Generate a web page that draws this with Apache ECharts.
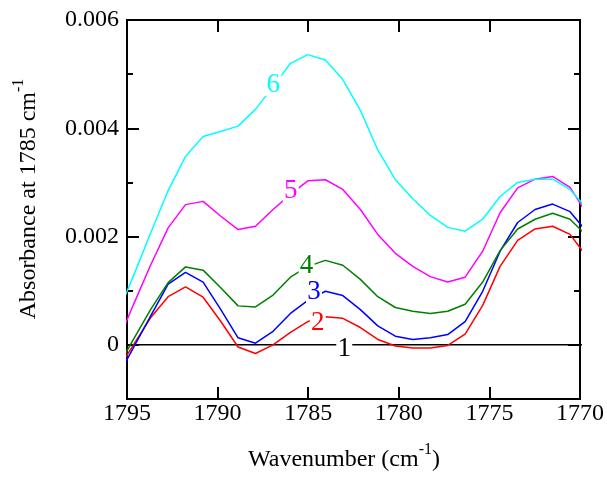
<!DOCTYPE html>
<html>
<head>
<meta charset="utf-8">
<script src="https://cdn.jsdelivr.net/npm/echarts@6/dist/echarts.min.js"></script>
<style>html,body{margin:0;padding:0;background:#fff;}#chart{width:607px;height:477px;}</style>
</head>
<body>
<div id="chart"></div>
<script>
// Wavenumber sampling (cm-1)
const wavenumbers = [1795.63, 1794.66, 1793.70, 1792.73, 1791.77, 1790.80, 1789.84, 1788.87, 1787.91, 1786.94,
  1785.98, 1785.02, 1784.05, 1783.09, 1782.12, 1781.16, 1780.19, 1779.23, 1778.26, 1777.30,
  1776.34, 1775.37, 1774.41, 1773.44, 1772.48, 1771.51, 1770.55, 1769.58];

const curve1 = [0, 0, 0, 0, 0, 0, 0, 0, 0, 0,
  0, 0, 0, 0, 0, 0, 0, 0, 0, 0,
  0, 0, 0, 0, 0, 0, 0, 0];
const curve2 = [-0.00052, -0.00001, 0.00050, 0.00089, 0.00107, 0.00088, 0.00044, -0.00004, -0.00016, 0.00000,
  0.00023, 0.00043, 0.00052, 0.00049, 0.00032, 0.00010, -0.00002, -0.00006, -0.00006, -0.00001,
  0.00020, 0.00073, 0.00145, 0.00193, 0.00214, 0.00219, 0.00204, 0.00161];
const curve3 = [-0.00066, -0.00006, 0.00053, 0.00112, 0.00134, 0.00116, 0.00066, 0.00013, 0.00003, 0.00025,
  0.00058, 0.00082, 0.00099, 0.00091, 0.00065, 0.00035, 0.00016, 0.00010, 0.00013, 0.00019,
  0.00043, 0.00099, 0.00173, 0.00226, 0.00250, 0.00260, 0.00246, 0.00207];
const curve4 = [-0.00048, 0.00009, 0.00065, 0.00115, 0.00144, 0.00138, 0.00106, 0.00072, 0.00070, 0.00092,
  0.00125, 0.00145, 0.00156, 0.00147, 0.00121, 0.00089, 0.00069, 0.00062, 0.00058, 0.00062,
  0.00075, 0.00116, 0.00174, 0.00214, 0.00232, 0.00243, 0.00232, 0.00200];
const curve5 = [-0.00004, 0.00073, 0.00147, 0.00216, 0.00259, 0.00265, 0.00238, 0.00213, 0.00219, 0.00250,
  0.00278, 0.00303, 0.00305, 0.00287, 0.00250, 0.00204, 0.00169, 0.00145, 0.00126, 0.00116,
  0.00125, 0.00173, 0.00244, 0.00290, 0.00306, 0.00311, 0.00291, 0.00240];
const curve6 = [0.00048, 0.00126, 0.00206, 0.00285, 0.00348, 0.00385, 0.00394, 0.00404, 0.00435, 0.00477,
  0.00520, 0.00536, 0.00526, 0.00490, 0.00433, 0.00360, 0.00305, 0.00270, 0.00239, 0.00217,
  0.00210, 0.00232, 0.00274, 0.00300, 0.00306, 0.00306, 0.00287, 0.00250];

const curveNames = ['1', '2', '3', '4', '5', '6'];
const curveColors = ['#000000', '#ff0000', '#0000ff', '#008000', '#ff00ff', '#00ffff'];
const curveValues = [curve1, curve2, curve3, curve4, curve5, curve6];
// label anchor points (wavenumber, absorbance)
const labelX = [1783.01, 1784.47, 1784.68, 1785.09, 1785.96, 1786.93];
const labelY = [-0.00008, 0.00041, 0.00097, 0.00146, 0.00284, 0.00480];

const yMajor = [0, 0.002, 0.004, 0.006];
const yMinor = [-0.001, 0.001, 0.003, 0.005];
const xTickLabels = ['1795', '1790', '1785', '1780', '1775', '1770'];

const FONT = 'Liberation Serif';
const black = '#000';

function yFmt(v) { return Math.abs(v) < 1e-9 ? '0' : v.toFixed(3); }

const baseX = {
  type: 'value', min: 1770, max: 1795, interval: 5, inverse: true,
  splitLine: { show: false },
  axisLine: { show: true, onZero: false, lineStyle: { color: black, width: 2 } },
  axisTick: { show: true, inside: true, length: 12, lineStyle: { color: black, width: 2 } }
};
const baseY = {
  type: 'value', min: -0.001, max: 0.006, interval: 0.001,
  splitLine: { show: false },
  axisLine: { show: true, onZero: false, lineStyle: { color: black, width: 2 } }
};

const series = curveValues.map((vals, i) => ({
  type: 'line',
  name: curveNames[i],
  xAxisIndex: 0, yAxisIndex: 0,
  data: wavenumbers.map((w, j) => [w, vals[j]]),
  showSymbol: false, symbol: 'none',
  clip: true,
  lineStyle: { color: curveColors[i], width: 1.5 },
  z: 2,
  markPoint: {
    silent: true,
    symbol: 'rect',
    symbolSize: [16, 22],
    itemStyle: { color: '#fff' },
    label: { show: true, position: 'inside', color: curveColors[i], fontFamily: FONT, fontSize: 27, formatter: curveNames[i] },
    data: [{ coord: [labelX[i], labelY[i]] }]
  }
}));

const option = {
  animation: false,
  backgroundColor: '#fff',
  grid: { left: 127, right: 27, top: 20, bottom: 77, containLabel: false },
  xAxis: [
    Object.assign({}, baseX, {
      position: 'bottom',
      axisLabel: { show: true, color: black, fontFamily: FONT, fontSize: 24, margin: 3,
        formatter: v => xTickLabels.find(t => Number(t) === Math.round(v)) || '' },
      name: '{a|Wavenumber (cm}{s|-1}{a|)}',
      nameLocation: 'middle', nameGap: 43,
      nameTextStyle: { padding: [0, 19, 0, 0],
        rich: { a: { fontFamily: FONT, fontSize: 24, color: black, lineHeight: 36 },
                s: { fontFamily: FONT, fontSize: 16, color: black, verticalAlign: 'top' } } }
    }),
    Object.assign({}, baseX, { position: 'top', axisLabel: { show: false } })
  ],
  yAxis: [
    Object.assign({}, baseY, {
      position: 'left',
      axisTick: { show: true, inside: true, length: 12, customValues: yMajor, lineStyle: { color: black, width: 2 } },
      axisLabel: { show: true, customValues: yMajor, color: black, fontFamily: FONT, fontSize: 24, margin: 8, formatter: yFmt },
      name: '{a|Absorbance at 1785 cm}{s|-1}',
      nameLocation: 'middle', nameGap: 80,
      nameTextStyle: { padding: [0, 0, 0, 21],
        rich: { a: { fontFamily: FONT, fontSize: 24, color: black, lineHeight: 36 },
                s: { fontFamily: FONT, fontSize: 16, color: black, verticalAlign: 'top' } } }
    }),
    Object.assign({}, baseY, {
      position: 'left',
      axisTick: { show: true, inside: true, length: 6, customValues: yMinor, lineStyle: { color: black, width: 2 } },
      axisLabel: { show: false }
    }),
    Object.assign({}, baseY, {
      position: 'right',
      axisTick: { show: true, inside: true, length: 12, customValues: yMajor, lineStyle: { color: black, width: 2 } },
      axisLabel: { show: false }
    }),
    Object.assign({}, baseY, {
      position: 'right',
      axisTick: { show: true, inside: true, length: 6, customValues: yMinor, lineStyle: { color: black, width: 2 } },
      axisLabel: { show: false }
    })
  ],
  series: series
};

const chart = echarts.init(document.getElementById('chart'), null, { renderer: 'canvas' });
chart.setOption(option);
</script>
</body>
</html>
